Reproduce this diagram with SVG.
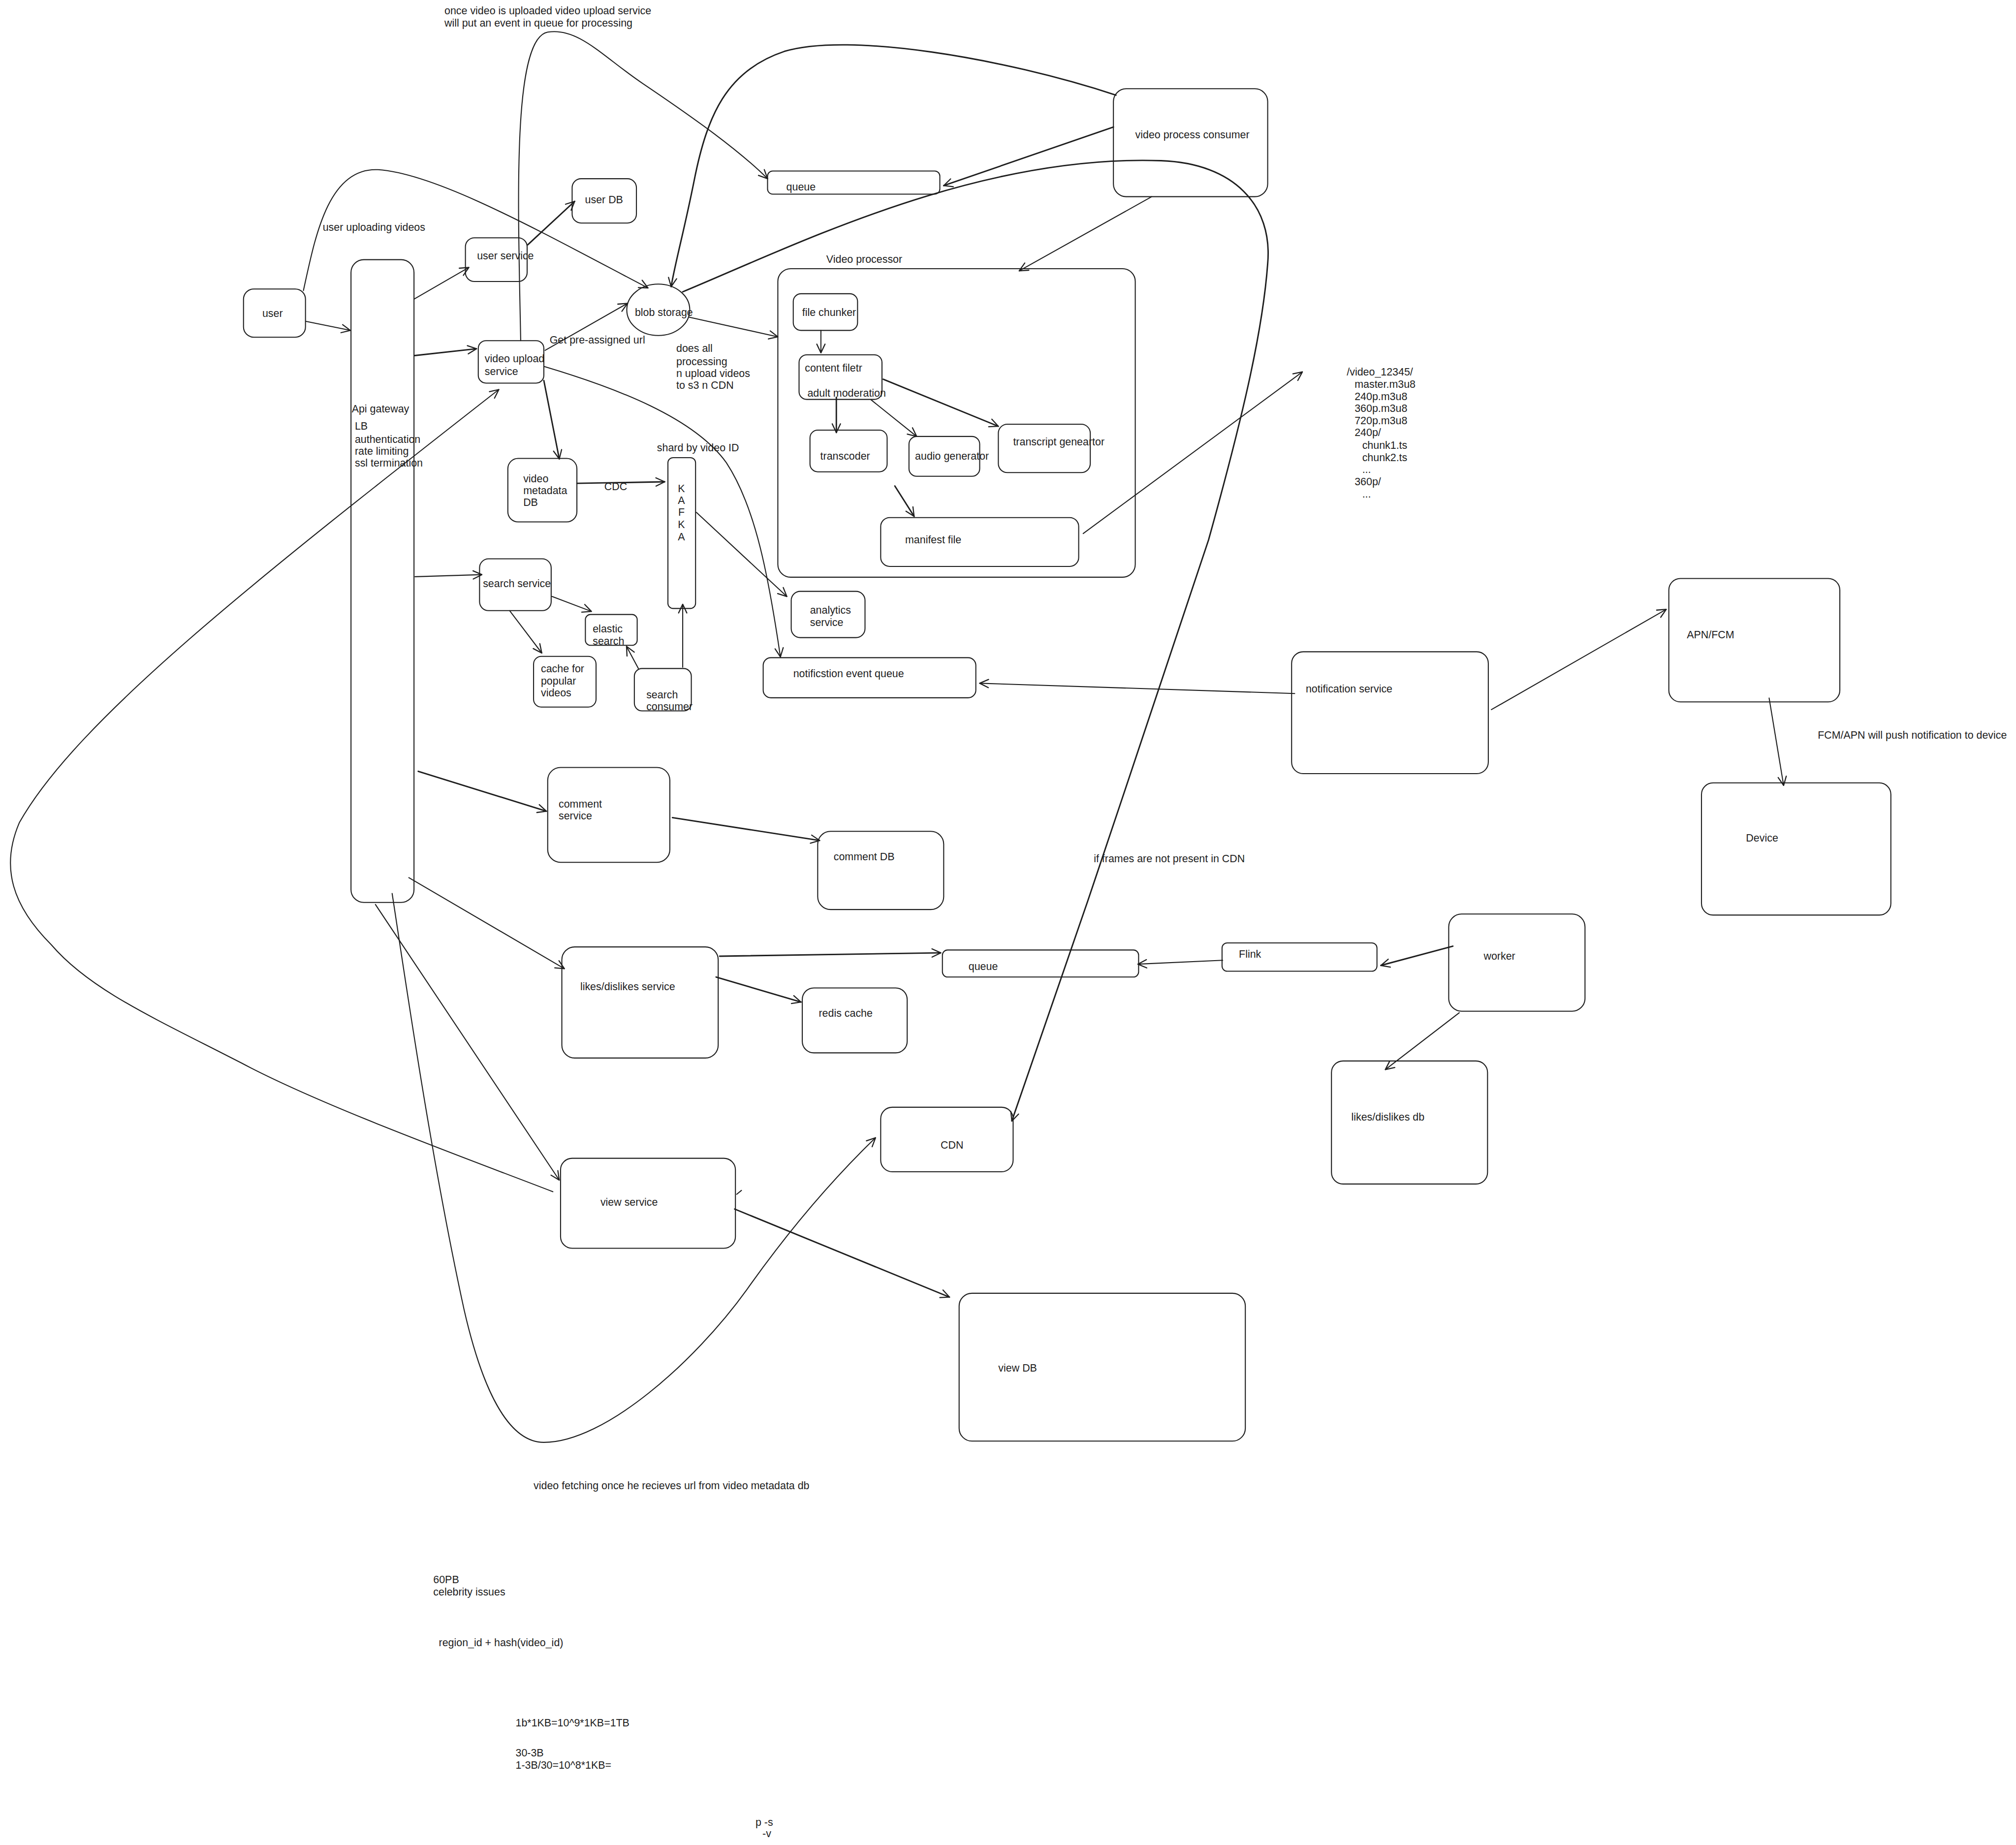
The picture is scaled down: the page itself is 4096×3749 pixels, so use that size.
<svg xmlns="http://www.w3.org/2000/svg" width="4096" height="3749" viewBox="0 0 4096 3749">
<defs>
<style>
.n rect, .n ellipse { fill: none; stroke: #1e1e1e; stroke-width: 0.8; }
text { font-family: "Liberation Sans", Arial, sans-serif; font-size: 8.2px; fill: #1e1e1e; dominant-baseline: central; }
.c path, .c line { fill: none; stroke: #1e1e1e; stroke-width: 0.8; stroke-linecap: round; stroke-linejoin: round; marker-end: url(#ah); }
.c .thick { stroke-width: 1.1; }
.c .plain { marker-end: none; }
</style>
<marker id="ah" viewBox="0 0 10 10" refX="9.5" refY="5" markerWidth="8" markerHeight="8" markerUnits="userSpaceOnUse" orient="auto">
<path d="M1,1 L9.5,5 L1,9" fill="none" stroke="#1e1e1e" stroke-width="1.1" stroke-linecap="round" stroke-linejoin="round"/>
</marker>
</defs>
<rect x="0" y="0" width="4096" height="3749" fill="#ffffff"/>
<g transform="scale(2.6122)">

<g id="connectors" class="c">
<line x1="238" y1="250" x2="272.5" y2="257"/>
<line x1="322" y1="232.7" x2="364.7" y2="208"/>
<line class="thick" x1="322.5" y1="276.6" x2="370.6" y2="271.3"/>
<line class="thick" x1="410.5" y1="190.4" x2="447" y2="156.6"/>
<line x1="424" y1="272.5" x2="488" y2="236"/>
<line class="thick" x1="423" y1="296" x2="435" y2="357"/>
<line class="thick" x1="866" y1="98.8" x2="734" y2="144.4"/>
<line x1="895.8" y1="153" x2="792.7" y2="210.7"/>
<line x1="536" y1="246.7" x2="605" y2="262"/>
<line x1="638.5" y1="257" x2="638.5" y2="274.5"/>
<line class="thick" x1="650.5" y1="309" x2="650.5" y2="336.5"/>
<line x1="677.5" y1="311" x2="713" y2="339.5"/>
<line class="thick" x1="687" y1="295" x2="776.5" y2="331.6"/>
<line class="thick" x1="696" y1="378" x2="711" y2="401.7"/>
<line x1="842.5" y1="415" x2="1013" y2="289.3"/>
<line class="thick" x1="448.7" y1="376" x2="517" y2="374.8"/>
<line x1="541.7" y1="398.6" x2="612" y2="464"/>
<line x1="322.8" y1="448.6" x2="374.8" y2="447"/>
<line x1="429.4" y1="464" x2="460" y2="475.6"/>
<line x1="396.4" y1="475" x2="421.4" y2="508"/>
<line x1="496.5" y1="520" x2="487.3" y2="502.8"/>
<line x1="531" y1="519" x2="531" y2="470"/>
<line x1="1007" y1="539.5" x2="762" y2="531.5"/>
<line x1="1160" y1="552" x2="1296" y2="474"/>
<line x1="1376" y1="543" x2="1387.3" y2="611"/>
<line class="thick" x1="325.3" y1="600" x2="425" y2="631"/>
<line class="thick" x1="523" y1="636" x2="637.5" y2="653.8"/>
<line x1="318" y1="682.7" x2="439" y2="753.5"/>
<line class="thick" x1="559.7" y1="743.8" x2="731.7" y2="741.2"/>
<line class="thick" x1="557" y1="760" x2="623" y2="779.5"/>
<line x1="951" y1="747" x2="885" y2="750"/>
<line class="thick" x1="1130" y1="736" x2="1074" y2="751"/>
<line x1="1135" y1="787.8" x2="1077.5" y2="832"/>
<line x1="292" y1="703.6" x2="435" y2="918"/>
<line class="thick" x1="571.4" y1="940.5" x2="738.5" y2="1009"/>
<line class="plain" x1="573" y1="929" x2="576.7" y2="926"/>
<path d="M236,226 C245,185 255,130 294,132 C340,135 420,180 504,224"/>
<path d="M405,265 C403,160 398,30 426,25 C450,21 470,45 500,65 C540,92 575,117 597,139"/>
<path class="thick" d="M868,74 C780,45 660,25 610,40 C565,55 550,90 540,140 C532,180 525,205 522,223"/>
<path class="thick" d="M531,227 C620,190 760,120 903,125 C960,127 990,160 986,205 C982,260 965,330 940,420 C920,480 880,600 846,701 L787,872"/>
<path d="M423,285 C480,302 540,325 565,360 C588,395 598,450 607,511"/>
<path d="M430,927 C360,900 250,860 188,827 C120,792 70,770 40,735 C10,705 0,675 15,640 C60,560 200,450 388,303"/>
<path d="M305,695 C315,760 335,900 361,1019 C375,1080 395,1122 423,1122 C470,1122 540,1060 581,1003 C615,955 650,915 681,885"/>
</g>

<g id="user" class="n"><rect x="189.4" y="224.8" width="48.2" height="37.5" rx="8"/><text x="204" y="244">user</text></g>
<g id="api-gateway" class="n"><rect x="273" y="202" width="49" height="500" rx="10"/>
<text x="273.6" y="318">Api gateway</text><text x="276" y="331.6">LB</text><text x="276" y="341.7">authentication</text><text x="276" y="351.2">rate limiting</text><text x="276" y="360.4">ssl termination</text></g>
<g id="user-service" class="n"><rect x="362" y="185" width="48" height="34" rx="7"/><text x="371" y="199">user service</text></g>
<g id="user-db" class="n"><rect x="445" y="139" width="50" height="34.5" rx="7"/><text x="455" y="155.4">user DB</text></g>
<g id="video-upload-service" class="n"><rect x="372" y="265" width="51" height="33" rx="6"/><text x="377" y="279">video upload</text><text x="377" y="289">service</text></g>
<g id="blob-storage" class="n"><ellipse cx="512" cy="241" rx="24.5" ry="20"/><text x="493.8" y="243.2">blob storage</text></g>
<g id="queue-top" class="n"><rect x="597" y="133" width="134" height="18" rx="4"/><text x="611.6" y="145.5">queue</text></g>
<g id="video-process-consumer" class="n"><rect x="866" y="69" width="120" height="84" rx="10"/><text x="883" y="105">video process consumer</text></g>
<g id="video-processor" class="n"><rect x="605" y="209" width="278" height="240" rx="10"/><text x="642.7" y="201.6">Video processor</text></g>
<g id="file-chunker" class="n"><rect x="617" y="228.5" width="50" height="28.5" rx="6"/><text x="623.9" y="243">file chunker</text></g>
<g id="content-filetr" class="n"><rect x="621.5" y="276" width="64.5" height="34.7" rx="6"/><text x="626" y="286.5">content filetr</text><text x="628" y="306">adult moderation</text></g>
<g id="transcoder" class="n"><rect x="630" y="334.6" width="60" height="32.4" rx="6"/><text x="638" y="355">transcoder</text></g>
<g id="audio-generator" class="n"><rect x="707" y="339.5" width="55" height="31" rx="6"/><text x="711.7" y="355">audio generator</text></g>
<g id="transcript-generator" class="n"><rect x="776.5" y="330" width="71.5" height="37.6" rx="7"/><text x="788" y="343.7">transcript geneartor</text></g>
<g id="manifest-file" class="n"><rect x="685" y="402.6" width="154" height="38" rx="7"/><text x="704" y="420">manifest file</text></g>
<g id="video-metadata-db" class="n"><rect x="395" y="356.6" width="53.7" height="49.4" rx="8"/><text x="407" y="372.4">video</text><text x="407" y="381.8">metadata</text><text x="407" y="391">DB</text></g>
<g id="kafka" class="n"><rect x="519.5" y="356" width="21.5" height="117.3" rx="4"/>
<text x="530" y="380" text-anchor="middle">K</text><text x="530" y="389.3" text-anchor="middle">A</text><text x="530" y="398.7" text-anchor="middle">F</text><text x="530" y="408" text-anchor="middle">K</text><text x="530" y="417.6" text-anchor="middle">A</text></g>
<g id="search-service" class="n"><rect x="373" y="434.7" width="55.7" height="40.3" rx="7"/><text x="375.6" y="454">search service</text></g>
<g id="elastic-search" class="n"><rect x="455.3" y="478" width="40.3" height="24" rx="4"/><text x="461" y="489.4">elastic</text><text x="461" y="498.8">search</text></g>
<g id="cache-popular" class="n"><rect x="415" y="510.6" width="48.6" height="39.4" rx="6"/><text x="420.7" y="520.3">cache for</text><text x="420.7" y="529.7">popular</text><text x="420.7" y="539.2">videos</text></g>
<g id="search-consumer" class="n"><rect x="493.4" y="520" width="44.3" height="33" rx="6"/><text x="502.7" y="540.4">search</text><text x="502.7" y="549.8">consumer</text></g>
<g id="analytics-service" class="n"><rect x="615.4" y="460" width="57.4" height="36" rx="7"/><text x="630" y="474.8">analytics</text><text x="630" y="484.3">service</text></g>
<g id="notification-event-queue" class="n"><rect x="593.6" y="511.6" width="165.4" height="31.2" rx="6"/><text x="617" y="524">notificstion event queue</text></g>
<g id="notification-service" class="n"><rect x="1004.6" y="507" width="153" height="94.8" rx="9"/><text x="1015.6" y="536">notification service</text></g>
<g id="apn-fcm" class="n"><rect x="1298" y="450" width="133" height="96" rx="9"/><text x="1312" y="494">APN/FCM</text></g>
<g id="device" class="n"><rect x="1323.4" y="609" width="147.3" height="102.8" rx="9"/><text x="1358" y="651.8">Device</text></g>
<g id="comment-service" class="n"><rect x="426" y="597" width="95" height="73.8" rx="10"/><text x="434.5" y="625.4">comment</text><text x="434.5" y="634.9">service</text></g>
<g id="comment-db" class="n"><rect x="636" y="646.7" width="98" height="60.8" rx="10"/><text x="648.4" y="666.5">comment DB</text></g>
<g id="likes-service" class="n"><rect x="437" y="736.6" width="121.6" height="86.4" rx="10"/><text x="451.3" y="767.5">likes/dislikes service</text></g>
<g id="queue-likes" class="n"><rect x="733" y="739" width="152.6" height="21" rx="4"/><text x="753.3" y="752">queue</text></g>
<g id="flink" class="n"><rect x="950.5" y="733.5" width="120.5" height="22" rx="4"/><text x="963.6" y="742.3">Flink</text></g>
<g id="worker" class="n"><rect x="1126.8" y="711" width="106" height="75.6" rx="10"/><text x="1154" y="743.8">worker</text></g>
<g id="redis-cache" class="n"><rect x="624" y="768.5" width="81.6" height="50.5" rx="9"/><text x="636.8" y="788.2">redis cache</text></g>
<g id="likes-db" class="n"><rect x="1035.6" y="825.3" width="121.4" height="95.7" rx="9"/><text x="1051" y="869">likes/dislikes db</text></g>
<g id="cdn" class="n"><rect x="685" y="861.3" width="103" height="50.2" rx="9"/><text x="731.6" y="891">CDN</text></g>
<g id="view-service" class="n"><rect x="436" y="901" width="136" height="70" rx="9"/><text x="467" y="935.2">view service</text></g>
<g id="view-db" class="n"><rect x="746" y="1006" width="222.6" height="115" rx="10"/><text x="776.5" y="1064.3">view DB</text></g>

<g id="notes">
<text x="345.7" y="8.5">once video is uploaded video upload service</text>
<text x="345.7" y="18">will put an event in queue for processing</text>
<text x="251" y="177">user uploading videos</text>
<text x="427.5" y="264.5">Get pre-assigned url</text>
<text x="526" y="271">does all</text>
<text x="526" y="281.5">processing</text>
<text x="526" y="290.5">n upload videos</text>
<text x="526" y="299.7">to s3 n CDN</text>
<text x="1047.5" y="289.3">/video_12345/</text>
<text x="1053.6" y="299">master.m3u8</text>
<text x="1053.6" y="308.5">240p.m3u8</text>
<text x="1053.6" y="317.8">360p.m3u8</text>
<text x="1053.6" y="327.4">720p.m3u8</text>
<text x="1053.6" y="336.5">240p/</text>
<text x="1059.5" y="346.4">chunk1.ts</text>
<text x="1059.5" y="356">chunk2.ts</text>
<text x="1059.5" y="365.3">...</text>
<text x="1053.6" y="374.8">360p/</text>
<text x="1059.5" y="384.4">...</text>
<text x="470" y="378.6">CDC</text>
<text x="511" y="348.5">shard by video ID</text>
<text x="1413.8" y="572">FCM/APN will push notification to device</text>
<text x="850.7" y="668">if frames are not present in CDN</text>
<text x="415" y="1155.8">video fetching once he recieves url from video metadata db</text>
<text x="337" y="1228.7">60PB</text>
<text x="337" y="1238.6">celebrity issues</text>
<text x="341.3" y="1277.7">region_id + hash(video_id)</text>
<text x="401" y="1340.3">1b*1KB=10^9*1KB=1TB</text>
<text x="401" y="1363.7">30-3B</text>
<text x="401" y="1373.2">1-3B/30=10^8*1KB=</text>
<text x="587.6" y="1417.6">p -s</text>
<text x="593" y="1426.3">-v</text>
</g>
</g>
</svg>
